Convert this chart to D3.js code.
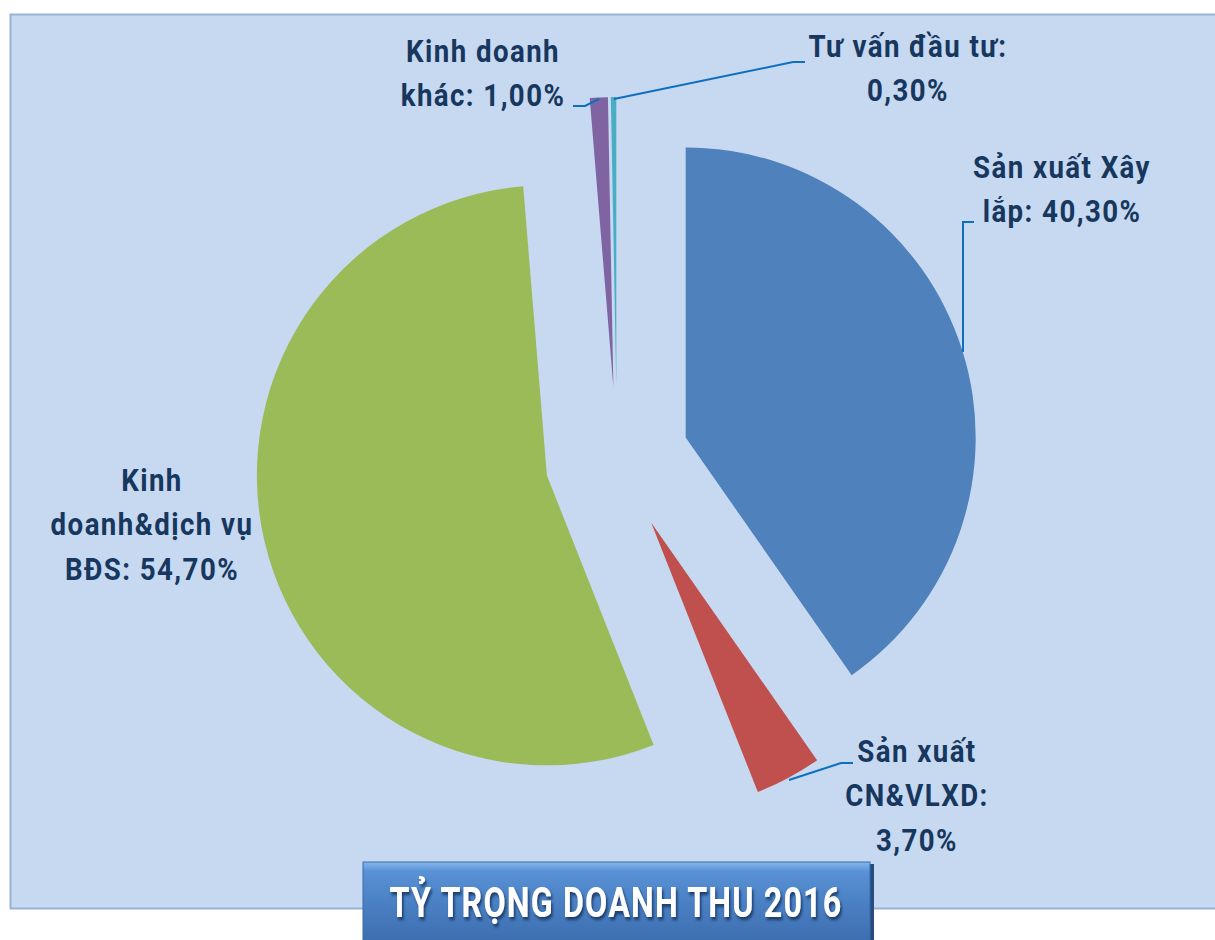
<!DOCTYPE html>
<html>
<head>
<meta charset="utf-8">
<script src="https://cdn.jsdelivr.net/npm/d3@7"></script>
<style>
  html, body { margin: 0; padding: 0; background: #ffffff; }
  svg { display: block; }
</style>
</head>
<body>
<svg id="chart" width="1215" height="940"></svg>
<script>
// ---- Data ----
const categories = ["Sản xuất Xây lắp", "Sản xuất CN&VLXD", "Kinh doanh&dịch vụ BĐS", "Kinh doanh khác", "Tư vấn đầu tư"];
const values = [40.3, 3.7, 54.7, 1.0, 0.3];
const labelLines = [
  ["Sản xuất Xây", "lắp: 40,30%"],
  ["Sản xuất", "CN&VLXD:", "3,70%"],
  ["Kinh", "doanh&dịch vụ", "BĐS: 54,70%"],
  ["Kinh doanh", "khác: 1,00%"],
  ["Tư vấn đầu tư:", "0,30%"]
];
const colors = ["#4f81bd", "#c0504d", "#9bbb59", "#8064a2", "#4bacc6"];
const title = "TỶ TRỌNG DOANH THU 2016";

// ---- Layout ----
const cx = 617, cy = 459, R = 290, explode = 72;
const labelLayout = [
  { x: 1062, y: 178 },
  { x: 917, y: 762 },
  { x: 152, y: 491 },
  { x: 483, y: 62 },
  { x: 908, y: 57 }
];
const lineH = 44.5;
const leaders = [
  [[963, 352], [963, 222], [974, 222]],
  [[789, 780], [841, 763], [853, 763]],
  null,
  [[599, 99], [585, 106], [573, 106]],
  [[614, 99], [793, 62], [805, 62]]
];

const svg = d3.select("#chart");
const defs = svg.append("defs");

// background panel
svg.append("rect")
  .attr("x", 10.5).attr("y", 14.5)
  .attr("width", 1215).attr("height", 894)
  .attr("fill", "#c6d9f1")
  .attr("stroke", "#95b3d7").attr("stroke-width", 2);

// pie
const pie = d3.pie().sort(null).value(d => d).startAngle(0).endAngle(2 * Math.PI);
const arcs = pie(values);
const arc = d3.arc().innerRadius(0).outerRadius(R);

const g = svg.append("g").attr("transform", `translate(${cx},${cy})`);
g.selectAll("path.slice")
  .data(arcs)
  .join("path")
  .attr("class", "slice")
  .attr("d", arc)
  .attr("fill", (d, i) => colors[i])
  .attr("transform", d => {
    const mid = (d.startAngle + d.endAngle) / 2;
    return `translate(${explode * Math.sin(mid)},${-explode * Math.cos(mid)})`;
  });

// leader lines
const line = d3.line();
svg.selectAll("path.leader")
  .data(leaders.filter(d => d))
  .join("path")
  .attr("class", "leader")
  .attr("d", d => line(d))
  .attr("fill", "none")
  .attr("stroke", "#0e6fc1")
  .attr("stroke-width", 2);

// labels (condensed via horizontal scale)
const fontFam = "Roboto, 'Liberation Sans', sans-serif";
const labelSize = 31, labelSpacing = 1.6;
// measure scale from reference width of first line
const probe = svg.append("text")
  .attr("font-family", fontFam).attr("font-weight", "bold")
  .attr("font-size", labelSize).attr("letter-spacing", labelSpacing)
  .text(labelLines[0][0]);
const probeW = probe.node().getComputedTextLength();
probe.remove();
const sx = 178 / probeW;

labelLines.forEach((lines, i) => {
  const t = svg.append("text")
    .attr("transform", `translate(${labelLayout[i].x},${labelLayout[i].y}) scale(${sx},1)`)
    .attr("text-anchor", "middle")
    .attr("font-family", fontFam)
    .attr("font-weight", "bold")
    .attr("font-size", labelSize)
    .attr("letter-spacing", labelSpacing)
    .attr("fill", "#17375e");
  lines.forEach((s, j) => {
    t.append("tspan")
      .attr("x", 0)
      .attr("y", j * lineH)
      .text(s);
  });
});

// title box
const grad = defs.append("linearGradient").attr("id", "tgrad").attr("x1", 0).attr("y1", 0).attr("x2", 0).attr("y2", 1);
grad.append("stop").attr("offset", "0").attr("stop-color", "#86b6ee");
grad.append("stop").attr("offset", "0.1").attr("stop-color", "#5a92d6");
grad.append("stop").attr("offset", "0.45").attr("stop-color", "#4a80c4");
grad.append("stop").attr("offset", "1").attr("stop-color", "#3a6aaa");

const shadow = defs.append("filter").attr("id", "tshadow").attr("x", "-10%").attr("y", "-30%").attr("width", "120%").attr("height", "160%");
shadow.append("feDropShadow").attr("dx", 2).attr("dy", 3).attr("stdDeviation", 1.5).attr("flood-color", "#0b2a55").attr("flood-opacity", 0.8);

svg.append("rect")
  .attr("x", 366).attr("y", 864)
  .attr("width", 508).attr("height", 90)
  .attr("fill", "#254d80");
svg.append("rect")
  .attr("x", 363).attr("y", 862)
  .attr("width", 507).attr("height", 90)
  .attr("fill", "url(#tgrad)")
  .attr("stroke", "#3a6aa8").attr("stroke-width", 1);

const titleSize = 42;
const tprobe = svg.append("text")
  .attr("font-family", fontFam).attr("font-weight", "bold")
  .attr("font-size", titleSize).attr("letter-spacing", 1.5)
  .text(title);
const tW = tprobe.node().getComputedTextLength();
tprobe.remove();
const tsx = 453 / tW;

svg.append("text")
  .attr("transform", `translate(616,917) scale(${tsx},1)`)
  .attr("text-anchor", "middle")
  .attr("font-family", fontFam)
  .attr("font-weight", "bold")
  .attr("font-size", titleSize)
  .attr("letter-spacing", 1.5)
  .attr("fill", "#ffffff")
  .attr("filter", "url(#tshadow)")
  .text(title);
</script>
</body>
</html>
